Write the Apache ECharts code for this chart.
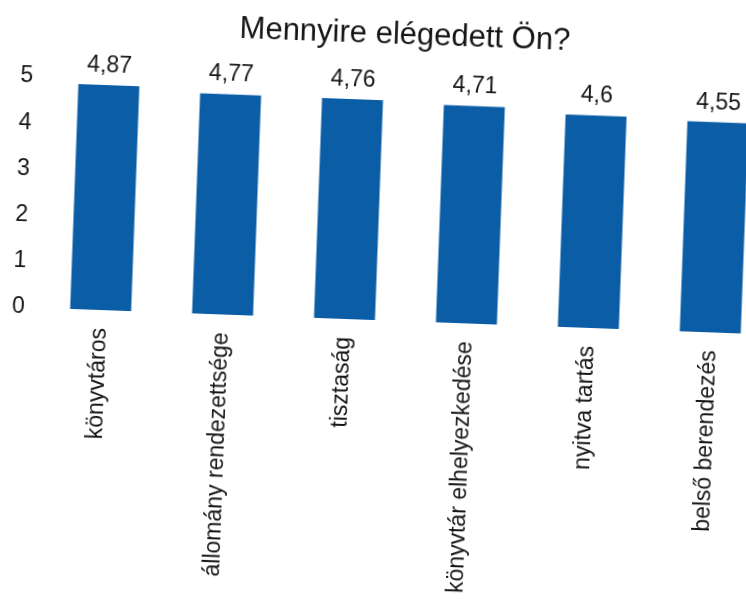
<!DOCTYPE html>
<html>
<head>
<meta charset="utf-8">
<script src="https://cdn.jsdelivr.net/npm/echarts@6/dist/echarts.min.js"></script>
<style>
  html, body { margin: 0; padding: 0; background: #ffffff; overflow: hidden; width: 746px; height: 611px; }
  #chart { width: 790px; height: 611px; transform: rotate(2.1deg); transform-origin: 373px 305px; }
</style>
</head>
<body>
<div id="chart"></div>
<script>
const titleText = 'Mennyire elégedett Ön?';
const categories = ['könyvtáros', 'állomány rendezettsége', 'tisztaság', 'könyvtár elhelyezkedése', 'nyitva tartás', 'belső berendezés'];
const values = [4.87, 4.77, 4.76, 4.71, 4.6, 4.55];
const yTicks = { min: 0, max: 5, interval: 1 };

const font = '"Liberation Sans", Arial, sans-serif';
const textColor = '#161616';
const chart = echarts.init(document.getElementById('chart'), null, { renderer: 'canvas' });
chart.setOption({
  animation: false,
  backgroundColor: '#ffffff',
  title: {
    text: titleText,
    left: 'center',
    top: 14,
    textStyle: { fontFamily: font, fontSize: 31, fontWeight: 'normal', color: textColor }
  },
  grid: { left: 40, top: 89, width: 732, height: 231, containLabel: false },
  xAxis: {
    type: 'category',
    data: categories,
    axisLine: { show: false },
    axisTick: { show: false },
    axisLabel: { rotate: 90, margin: 18, fontFamily: font, fontSize: 23, color: textColor, interval: 0 }
  },
  yAxis: {
    type: 'value',
    min: yTicks.min, max: yTicks.max, interval: yTicks.interval,
    axisLine: { show: false },
    axisTick: { show: false },
    splitLine: { show: false },
    axisLabel: { margin: 15, fontFamily: font, fontSize: 23, color: textColor }
  },
  series: [{
    type: 'bar',
    data: values,
    barWidth: 61,
    itemStyle: { color: '#0b5da6' },
    label: {
      show: true,
      position: 'top',
      distance: 8,
      fontFamily: font,
      fontSize: 23,
      color: textColor,
      formatter: p => String(p.value).replace('.', ',')
    }
  }]
});
</script>
</body>
</html>
